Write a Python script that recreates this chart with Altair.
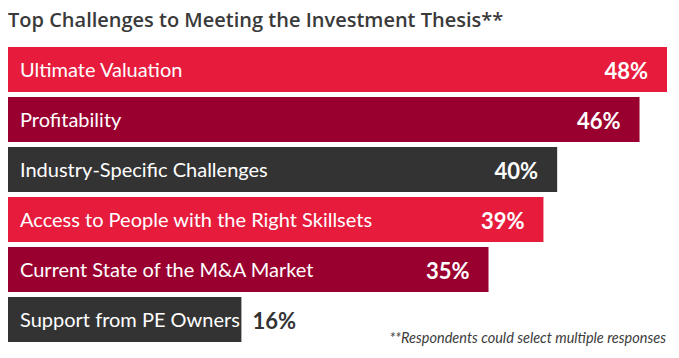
import altair as alt
import pandas as pd

categories = [
    "Ultimate Valuation",
    "Profitability",
    "Industry-Specific Challenges",
    "Access to People with the Right Skillsets",
    "Current State of the M&A Market",
    "Support from PE Owners",
]
values = [48, 46, 40, 39, 35, 16]
# drawn bar length (last bar is padded to fit its label)
bar_lengths = [48, 46, 40, 39, 35, 17]
title_text = "Top Challenges to Meeting the Investment Thesis**"
footnote = "**Respondents could select multiple responses"

RED = "#E71C3D"
DARK = "#9A002F"
GRAY = "#333333"
bar_colors = [RED, DARK, GRAY, RED, DARK, GRAY]

df = pd.DataFrame({
    "category": categories,
    "value": values,
    "length": bar_lengths,
    "label": [f"{v}%" for v in values],
})
df["inside"] = df["value"] >= 20

W, H = 659, 295

y_enc = alt.Y("category:N", sort=categories, axis=None,
              scale=alt.Scale(paddingInner=0.1, paddingOuter=0))
x_scale = alt.Scale(domain=[0, 48], nice=False, zero=True)

base = alt.Chart(df)

bars = base.mark_bar().encode(
    x=alt.X("length:Q", scale=x_scale, axis=None),
    y=y_enc,
    color=alt.Color("category:N", scale=alt.Scale(domain=categories, range=bar_colors), legend=None),
)

cat_text = base.mark_text(
    align="left", baseline="middle", dx=12, dy=1, font="Lato", fontSize=20, color="white"
).encode(x=alt.datum(0), y=y_enc, text="category:N")

in_text = base.transform_filter("datum.inside").mark_text(
    align="right", baseline="middle", dx=-19, dy=2, font="Lato", fontSize=22,
    fontWeight="bold", color="white"
).encode(x=alt.X("length:Q"), y=y_enc, text="label:N")

out_text = base.transform_filter("!datum.inside").mark_text(
    align="left", baseline="middle", dx=11, dy=2, font="Lato", fontSize=22,
    fontWeight="bold", color=GRAY
).encode(x=alt.X("length:Q"), y=y_enc, text="label:N")

foot = alt.Chart(pd.DataFrame({"t": [footnote]})).mark_text(
    align="right", baseline="alphabetic", font="Lato", fontStyle="italic",
    fontSize=14.5, color="#3c3c3c"
).encode(x=alt.value(W - 1), y=alt.value(H + 1), text="t:N")

chart = alt.layer(bars, cat_text, in_text, out_text, foot).properties(
    width=W, height=H, padding={"top": 3, "left": 0, "right": 0, "bottom": 0},
    title=alt.TitleParams(title_text, anchor="start", font="Open Sans", fontSize=20,
                          fontWeight=600, color="#3a3a3a", offset=16),
).configure_view(stroke=None)

chart.save("out.html", embed_options={"renderer": "svg", "actions": False})
